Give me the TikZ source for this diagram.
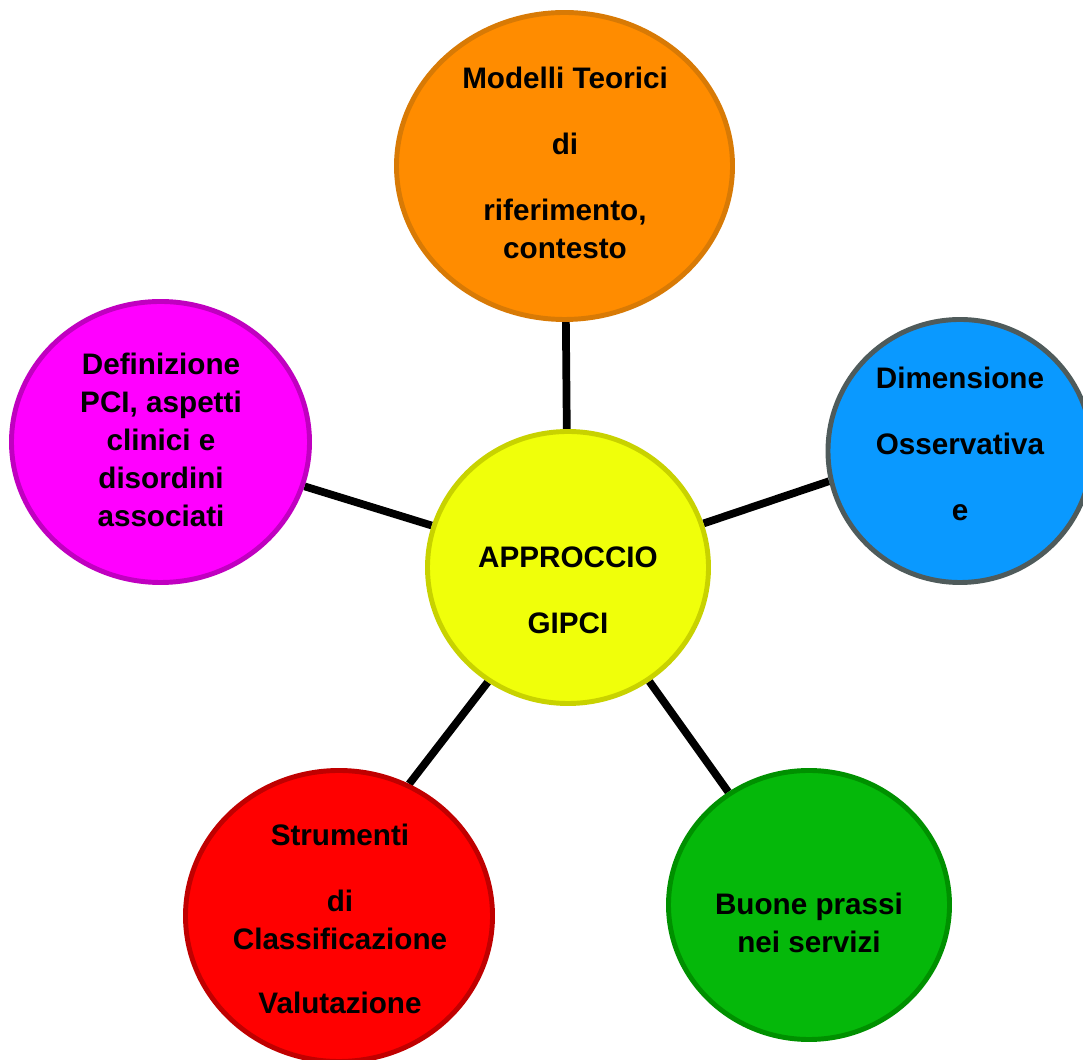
\documentclass[tikz,border=0pt]{standalone}
\usepackage{fontspec}
\setmainfont{Liberation Sans}
\usetikzlibrary{shapes.geometric, backgrounds}
\definecolor{arancio}{HTML}{FF8C00}
\definecolor{arancioBordo}{HTML}{D87A05}
\definecolor{giallo}{HTML}{F0FF0A}
\definecolor{gialloBordo}{HTML}{C8D200}
\definecolor{fucsia}{HTML}{FF00FF}
\definecolor{fucsiaBordo}{HTML}{C000C0}
\definecolor{azzurro}{HTML}{0A99FF}
\definecolor{azzurroBordo}{HTML}{4F5B5B}
\definecolor{rosso}{HTML}{FF0000}
\definecolor{rossoBordo}{HTML}{C00000}
\definecolor{verde}{HTML}{05B80A}
\definecolor{verdeBordo}{HTML}{009000}

\begin{document}
\begin{tikzpicture}[
		bolla/.style = {ellipse, draw, line width = 3.5pt, inner sep = 0pt},
		testo/.style = {align = center, inner sep = 0pt, font = \fontsize{21.1}{27}\selectfont\bfseries},
		raggio/.style = {line width = 5.5pt}
	]
		\useasboundingbox (0, 0) rectangle (27.075, 26.5);
		%%%%%%%%%%%%%
		\node[bolla, fill = giallo, draw = gialloBordo, minimum width = 7.025cm, minimum height = 6.8cm] (centro) at (14.2, 12.3125) {};
		\node[bolla, fill = arancio, draw = arancioBordo, minimum width = 8.4cm, minimum height = 7.675cm] (modelli) at (14.1125, 22.35) {};
		\node[bolla, fill = fucsia, draw = fucsiaBordo, minimum width = 7.45cm, minimum height = 7.025cm] (definizione) at (4.0125, 15.45) {};
		\node[bolla, fill = azzurro, draw = azzurroBordo, minimum width = 6.6cm, minimum height = 6.575cm] (dimensione) at (24.0, 15.225) {};
		\node[bolla, fill = rosso, draw = rossoBordo, minimum width = 7.675cm, minimum height = 7.275cm] (strumenti) at (8.475, 3.6) {};
		\node[bolla, fill = verde, draw = verdeBordo, minimum width = 7.025cm, minimum height = 6.725cm] (prassi) at (20.225, 3.875) {};
		%%%%%%%%%%%%%
		\node[testo] (t-centro) at (14.2, 11.7375) {APPROCCIO\\[19.9pt] GIPCI};
		\node[testo] (t-modelli) at (14.125, 22.425) {Modelli Teorici\\[19.9pt] di\\[19.9pt] riferimento,\\ contesto};
		\node[testo] (t-definizione) at (4.025, 15.5) {Definizione\\ PCI, aspetti\\ clinici e\\ disordini\\ associati};
		\node[testo] (t-dimensione) at (24.0, 15.4) {Dimensione\\[19.9pt] Osservativa\\[19.9pt] e};
		\node[testo] (t-strumenti) at (8.5, 3.5375) {Strumenti\\[19.9pt] di\\ Classificazione\\[18.5pt] Valutazione};
		\node[testo] (t-prassi) at (20.225, 3.425) {Buone prassi\\ nei servizi};
		%%%%%%%%%%%%%%%%%%%%%%
		\begin{scope}[on background layer]
			\draw[raggio] (centro) -- (modelli);
			\draw[raggio] (centro) -- (definizione);
			\draw[raggio] (centro.18) -- (dimensione.193);
			\draw[raggio] (centro.235) -- (strumenti.62);
			\draw[raggio] (centro) -- (prassi);
		\end{scope}
\end{tikzpicture}
\end{document}
